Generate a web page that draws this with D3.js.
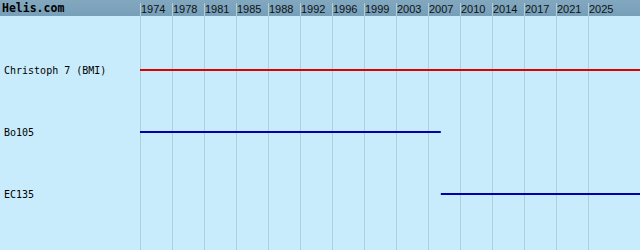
<!DOCTYPE html>
<html>
<head>
<meta charset="utf-8">
<script src="https://cdn.jsdelivr.net/npm/d3@7"></script>
<style>
  body { margin: 0; background: #c8ecfc; }
</style>
</head>
<body>
<script>
// tick years shown in the header (evenly spaced columns)
var tickYears = [1974, 1978, 1981, 1985, 1988, 1992, 1996, 1999, 2003, 2007, 2010, 2014, 2017, 2021, 2025]

// one bar per model, end null = still in service
var models = ['Christoph 7 (BMI)', 'Bo105', 'EC135']
var startYears = [1974, 1974, 2008.2]
var endYears = [null, 2008.2, null]
var colors = ['#dd0000', '#0000aa', '#0000aa']

var width = 640, height = 250, headerH = 16

var xScale = d3.scaleLinear()
    .domain(tickYears)
    .range(tickYears.map(function(d, i) { return 140 + 32 * i }))

var yScale = d3.scaleBand()
    .domain(models)
    .range([39, 225])

var svg = d3.select('body').append('svg')
    .attr('width', width)
    .attr('height', height)

svg.append('rect')
    .attr('width', width)
    .attr('height', height)
    .attr('fill', '#c8ecfc')

var grad = svg.append('defs').append('linearGradient')
    .attr('id', 'hdr')
    .attr('x1', 0).attr('y1', 0).attr('x2', 0).attr('y2', 1)
grad.append('stop').attr('offset', '0%').attr('stop-color', '#82a8c0')
grad.append('stop').attr('offset', '100%').attr('stop-color', '#779fb8')

svg.append('rect')
    .attr('width', width)
    .attr('height', headerH)
    .attr('fill', 'url(#hdr)')

// grid lines
svg.append('g')
    .selectAll('line')
    .data(tickYears)
    .enter()
    .append('line')
    .attr('x1', function(d) { return xScale(d) + 0.5 })
    .attr('x2', function(d) { return xScale(d) + 0.5 })
    .attr('y1', 3)
    .attr('y2', height)
    .attr('stroke', '#b0cfdd')
    .attr('stroke-width', 1)

// year labels
svg.append('g')
    .selectAll('text')
    .data(tickYears)
    .enter()
    .append('text')
    .attr('x', function(d) { return xScale(d) + 1 })
    .attr('y', 13)
    .attr('font-family', 'Liberation Sans, Arial, sans-serif')
    .attr('font-size', '11px')
    .attr('fill', '#111')
    .text(function(d) { return d })

svg.append('text')
    .attr('x', 2)
    .attr('y', 12)
    .attr('font-family', 'DejaVu Sans Mono, monospace')
    .attr('font-weight', 'bold')
    .attr('font-size', '11.5px')
    .attr('fill', '#000')
    .text('Helis.com')

// model labels
svg.append('g')
    .selectAll('text')
    .data(models)
    .enter()
    .append('text')
    .attr('x', 4)
    .attr('y', function(d) { return yScale(d) + yScale.bandwidth() / 2 + 3.5 })
    .attr('font-family', 'DejaVu Sans Mono, monospace')
    .attr('font-size', '10px')
    .attr('fill', '#000')
    .text(function(d) { return d })

// service bars
svg.append('g')
    .selectAll('line')
    .data(models)
    .enter()
    .append('line')
    .attr('x1', function(d, i) { return xScale(startYears[i]) })
    .attr('x2', function(d, i) { return endYears[i] === null ? width : xScale(endYears[i]) })
    .attr('y1', function(d) { return yScale(d) + yScale.bandwidth() / 2 })
    .attr('y2', function(d) { return yScale(d) + yScale.bandwidth() / 2 })
    .attr('stroke', function(d, i) { return colors[i] })
    .attr('stroke-width', 2)
</script>
</body>
</html>
